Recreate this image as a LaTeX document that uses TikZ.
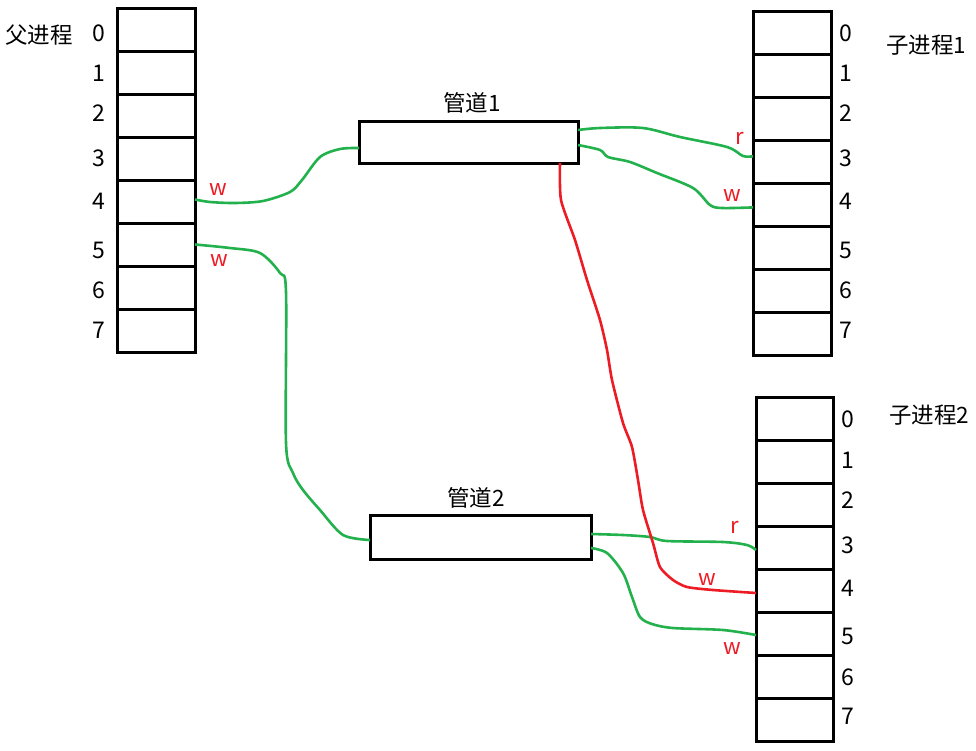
\documentclass[tikz,border=0pt]{standalone}
\usepackage{fontspec}
\setmainfont{Noto Sans CJK SC}
\definecolor{pgreen}{RGB}{34,177,76}
\definecolor{pred}{RGB}{237,28,36}
\tikzset{
  cell/.style={draw, line width=3pt, minimum width=78pt, minimum height=43pt, inner sep=0pt, outer sep=0pt},
  pipebox/.style={draw, line width=3pt, inner sep=0pt, outer sep=0pt},
  idx/.style={font=\fontsize{23pt}{23pt}\selectfont, inner sep=0pt},
  title/.style={font=\fontsize{22.5pt}{22.5pt}\selectfont, inner sep=0pt},
  mode/.style={font=\fontsize{22pt}{22pt}\selectfont, text=pred, inner sep=0pt},
  gline/.style={draw=pgreen, line width=2.6pt, line join=round},
  rline/.style={draw=pred, line width=2.6pt, line join=round}
}
\begin{document}
\begin{tikzpicture}[x=1pt, y=-1pt]
\useasboundingbox (0,0) rectangle (976,750);
% arrays
\foreach \i in {0,...,7} {
  \node[cell] (p\i) at (156, 29.5+43*\i) {};
  \node[cell] (a\i) at (792, 32.5+43.1*\i) {};
  \node[cell, minimum width=77pt] (b\i) at (794.5, 418.5+43*\i) {};
}
% index labels
\foreach \i/\ya/\yc in {0/33/419, 1/73/460, 2/113/500, 3/158/545, 4/201/588, 5/250/636, 6/290/677, 7/330/716} {
  \node[idx] (pl\i) at (99, \ya) {\i};
  \node[idx] (al\i) at (846, \ya) {\i};
  \node[idx] (bl\i) at (848, \yc) {\i};
}
\node[title] (tp) at (39, 35) {父进程};
\node[title] (ta) at (926, 45) {子进程1};
\node[title] (tb) at (929, 415) {子进程2};
% pipes
\node[pipebox, minimum width=219pt, minimum height=42pt] (pipe1) at (468.5, 142) {};
\node[pipebox, minimum width=221pt, minimum height=44pt] (pipe2) at (480.5, 537) {};
\node[title] (tpipe1) at (472, 103) {管道1};
\node[title] (tpipe2) at (476, 498) {管道2};
% green connectors
\draw[gline] plot[smooth, tension=0.5] coordinates {([yshift=2pt]p4.east) (210,202) (235,203) (263,201) (290,192) (302,180) (320,157) (340,149) ([yshift=-6pt]pipe1.west)};
\draw[gline] plot[smooth, tension=0.5] coordinates {(p5.east) (230,248) (260,253) (280,273) (286,292) (286,443) (293,473) (303,490) (320,510) (343,535) ([yshift=-3pt]pipe2.west)};
\draw[gline] plot[smooth, tension=0.5] coordinates {([yshift=12pt]pipe1.east) (600,128) (643,128) (680,137) (727,147) (743,156) ([yshift=5.5pt]a3.west)};
\draw[gline] plot[smooth, tension=0.5] coordinates {([yshift=-3pt]pipe1.east) (600,150) (608,157) (630,162) (657,173) (693,188) (710,205) (722,208) ([yshift=-2.5pt]a4.west)};
\draw[gline] plot[smooth, tension=0.5] coordinates {([yshift=3pt]pipe2.east) (623,535) (650,537) (667,541) (723,542) (747,545) ([yshift=-2.5pt]b3.west)};
\draw[gline] plot[smooth, tension=0.5] coordinates {([yshift=-11pt]pipe2.east) (607,553) (623,573) (632,597) (640,617) (652,624) (673,628) (723,630) ([yshift=-1.5pt]b5.west)};
% red connector
\draw[rline] plot[smooth, tension=0.4] coordinates {([xshift=91.5pt]pipe1.south) (561,200) (575,240) (587,280) (600,320) (607,350) (612,380) (623,423) (632,447) (638,480) (643,510) (653,543) (660,567) (673,580) (687,587) (713,590) ([yshift=-2.5pt]b4.west)};
% mode labels
\node[mode] (m1) at (218,190) {w};
\node[mode] (m2) at (219,261) {w};
\node[mode] (m3) at (740,138) {r};
\node[mode] (m4) at (732,196) {w};
\node[mode] (m5) at (735,527) {r};
\node[mode] (m6) at (707,580) {w};
\node[mode] (m7) at (732,649) {w};
\end{tikzpicture}
\end{document}
